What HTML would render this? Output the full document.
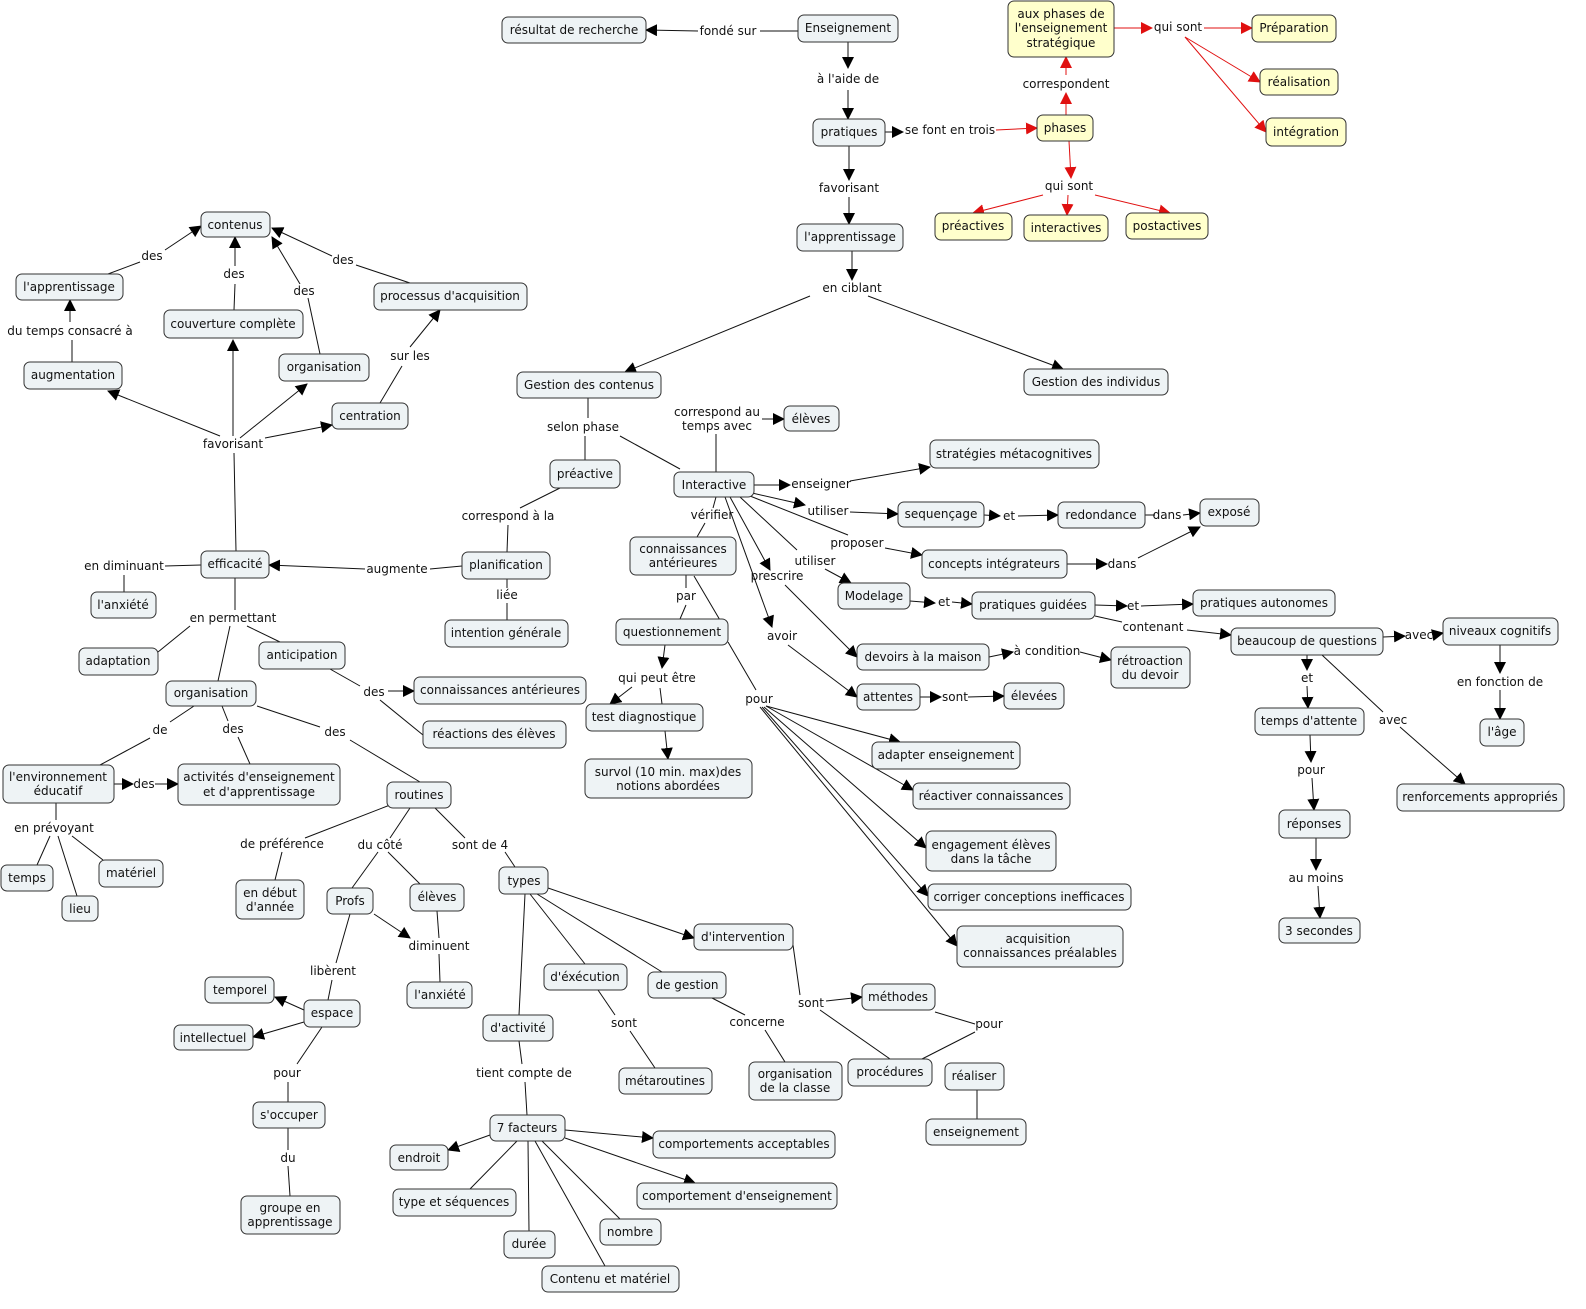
<!DOCTYPE html>
<html><head><meta charset="utf-8"><style>
html,body{margin:0;padding:0;background:#fff;overflow:hidden;width:1586px;height:1309px;}
svg{display:block;font-family:"DejaVu Sans","Liberation Sans",sans-serif;font-size:12px;}
.n{fill:#eef3f5;stroke:#333;stroke-width:1;}
.y{fill:#ffffcc;stroke:#333;stroke-width:1;}
text{fill:#111;text-anchor:middle;}
.l{stroke:#111;stroke-width:1;fill:none;}
.r{stroke:#e01010;stroke-width:1;fill:none;}
</style></head><body>
<svg width="1586" height="1309" viewBox="0 0 1586 1309" xmlns="http://www.w3.org/2000/svg">
<defs>
<marker id="a" markerUnits="userSpaceOnUse" markerWidth="12" markerHeight="12" refX="11" refY="6" orient="auto"><path d="M0,0 L12,6 L0,12 z" fill="#000"/></marker>
<marker id="ar" markerUnits="userSpaceOnUse" markerWidth="12" markerHeight="12" refX="11" refY="6" orient="auto"><path d="M0,0 L12,6 L0,12 z" fill="#e01010"/></marker>
</defs>

<g class="l">
<line x1="798" y1="31" x2="760" y2="31"/><line x1="698" y1="31" x2="646" y2="30" marker-end="url(#a)"/>
<line x1="848" y1="42" x2="848" y2="68" marker-end="url(#a)"/><line x1="848" y1="90" x2="848" y2="119" marker-end="url(#a)"/>
<line x1="885" y1="132" x2="903" y2="132" marker-end="url(#a)"/>
<line x1="849" y1="146" x2="849" y2="180" marker-end="url(#a)"/><line x1="849" y1="197" x2="849" y2="224" marker-end="url(#a)"/>
<line x1="852" y1="251" x2="852" y2="280" marker-end="url(#a)"/>
<line x1="810" y1="296" x2="625" y2="372" marker-end="url(#a)"/><line x1="868" y1="296" x2="1063" y2="369" marker-end="url(#a)"/>
<line x1="588" y1="398" x2="588" y2="418"/><line x1="585" y1="436" x2="585" y2="460"/><line x1="620" y1="436" x2="680" y2="469"/>
<line x1="716" y1="472" x2="716" y2="434"/><line x1="762" y1="419" x2="784" y2="419" marker-end="url(#a)"/>
<line x1="754" y1="485" x2="790" y2="485" marker-end="url(#a)"/><line x1="850" y1="481" x2="930" y2="467" marker-end="url(#a)"/>
<line x1="752" y1="493" x2="805" y2="505" marker-end="url(#a)"/><line x1="850" y1="512" x2="898" y2="514" marker-end="url(#a)"/>
<line x1="750" y1="496" x2="848" y2="535"/><line x1="885" y1="548" x2="922" y2="555" marker-end="url(#a)"/>
<line x1="740" y1="497" x2="797" y2="550"/><line x1="825" y1="569" x2="851" y2="583" marker-end="url(#a)"/>
<line x1="730" y1="497" x2="770" y2="570" marker-end="url(#a)"/><line x1="785" y1="585" x2="857" y2="657" marker-end="url(#a)"/>
<line x1="725" y1="497" x2="772" y2="627" marker-end="url(#a)"/><line x1="788" y1="645" x2="857" y2="697" marker-end="url(#a)"/>
<line x1="716" y1="497" x2="713" y2="508"/><line x1="705" y1="523" x2="697" y2="537"/>
<line x1="686" y1="575" x2="686" y2="588"/><line x1="686" y1="605" x2="680" y2="619"/>
<line x1="694" y1="576" x2="727" y2="632"/>
<line x1="728" y1="642" x2="756" y2="690"/>
<line x1="766" y1="706" x2="900" y2="742" marker-end="url(#a)"/>
<line x1="766" y1="706" x2="913" y2="790" marker-end="url(#a)"/>
<line x1="764" y1="707" x2="926" y2="848" marker-end="url(#a)"/>
<line x1="762" y1="707" x2="928" y2="896" marker-end="url(#a)"/>
<line x1="760" y1="707" x2="957" y2="946" marker-end="url(#a)"/>
<line x1="665" y1="645" x2="662" y2="668" marker-end="url(#a)"/>
<line x1="632" y1="687" x2="610" y2="704" marker-end="url(#a)"/><line x1="660" y1="688" x2="662" y2="704"/>
<line x1="665" y1="731" x2="668" y2="759" marker-end="url(#a)"/>
<line x1="984" y1="515" x2="1000" y2="516" marker-end="url(#a)"/><line x1="1018" y1="516" x2="1058" y2="515" marker-end="url(#a)"/>
<line x1="1145" y1="515" x2="1155" y2="515"/><line x1="1183" y1="515" x2="1200" y2="513" marker-end="url(#a)"/>
<line x1="1067" y1="564" x2="1107" y2="564" marker-end="url(#a)"/><line x1="1138" y1="558" x2="1200" y2="527" marker-end="url(#a)"/>
<line x1="910" y1="601" x2="935" y2="603" marker-end="url(#a)"/><line x1="952" y1="602" x2="972" y2="604" marker-end="url(#a)"/>
<line x1="1095" y1="605" x2="1127" y2="606" marker-end="url(#a)"/><line x1="1141" y1="606" x2="1193" y2="604" marker-end="url(#a)"/>
<line x1="1095" y1="616" x2="1122" y2="622"/><line x1="1187" y1="630" x2="1231" y2="635" marker-end="url(#a)"/>
<line x1="989" y1="657" x2="1013" y2="652" marker-end="url(#a)"/><line x1="1080" y1="652" x2="1111" y2="660" marker-end="url(#a)"/>
<line x1="920" y1="697" x2="941" y2="697" marker-end="url(#a)"/><line x1="968" y1="697" x2="1004" y2="696" marker-end="url(#a)"/>
<line x1="1383" y1="637" x2="1405" y2="636" marker-end="url(#a)"/><line x1="1433" y1="635" x2="1443" y2="633" marker-end="url(#a)"/>
<line x1="1500" y1="645" x2="1500" y2="673" marker-end="url(#a)"/><line x1="1500" y1="690" x2="1500" y2="719" marker-end="url(#a)"/>
<line x1="1307" y1="655" x2="1307" y2="670" marker-end="url(#a)"/><line x1="1307" y1="686" x2="1308" y2="708" marker-end="url(#a)"/>
<line x1="1322" y1="655" x2="1383" y2="712"/><line x1="1400" y1="727" x2="1465" y2="784" marker-end="url(#a)"/>
<line x1="1310" y1="735" x2="1311" y2="762" marker-end="url(#a)"/><line x1="1312" y1="778" x2="1314" y2="810" marker-end="url(#a)"/>
<line x1="1316" y1="838" x2="1316" y2="870" marker-end="url(#a)"/><line x1="1318" y1="886" x2="1320" y2="918" marker-end="url(#a)"/>
<line x1="462" y1="566" x2="430" y2="569"/><line x1="365" y1="569" x2="269" y2="565" marker-end="url(#a)"/>
<line x1="507" y1="552" x2="508" y2="525"/><line x1="520" y1="508" x2="560" y2="488"/>
<line x1="507" y1="579" x2="507" y2="588"/><line x1="507" y1="603" x2="507" y2="620"/>
<line x1="201" y1="565" x2="165" y2="566"/><line x1="124" y1="575" x2="124" y2="592"/>
<line x1="236" y1="551" x2="234" y2="453"/>
<line x1="220" y1="436" x2="108" y2="391" marker-end="url(#a)"/><line x1="233" y1="436" x2="233" y2="340" marker-end="url(#a)"/>
<line x1="240" y1="438" x2="307" y2="384" marker-end="url(#a)"/><line x1="265" y1="438" x2="332" y2="425" marker-end="url(#a)"/>
<line x1="72" y1="362" x2="72" y2="340"/><line x1="70" y1="322" x2="70" y2="300" marker-end="url(#a)"/>
<line x1="108" y1="274" x2="140" y2="262"/><line x1="165" y1="250" x2="201" y2="226" marker-end="url(#a)"/>
<line x1="234" y1="310" x2="235" y2="284"/><line x1="235" y1="266" x2="235" y2="237" marker-end="url(#a)"/>
<line x1="320" y1="354" x2="308" y2="298"/><line x1="300" y1="284" x2="272" y2="237" marker-end="url(#a)"/>
<line x1="410" y1="283" x2="356" y2="265"/><line x1="332" y1="256" x2="272" y2="228" marker-end="url(#a)"/>
<line x1="380" y1="403" x2="402" y2="366"/><line x1="410" y1="347" x2="440" y2="310" marker-end="url(#a)"/>
<line x1="235" y1="578" x2="235" y2="610"/><line x1="190" y1="626" x2="158" y2="652"/><line x1="230" y1="626" x2="218" y2="681"/><line x1="247" y1="626" x2="280" y2="642"/>
<line x1="330" y1="669" x2="360" y2="686"/><line x1="388" y1="691" x2="414" y2="691" marker-end="url(#a)"/><line x1="380" y1="700" x2="423" y2="735"/>
<line x1="194" y1="706" x2="170" y2="722"/><line x1="150" y1="738" x2="100" y2="765"/>
<line x1="222" y1="706" x2="228" y2="721"/><line x1="238" y1="737" x2="250" y2="764"/>
<line x1="257" y1="706" x2="320" y2="727"/><line x1="350" y1="740" x2="420" y2="782"/>
<line x1="114" y1="784" x2="133" y2="784" marker-end="url(#a)"/><line x1="155" y1="784" x2="178" y2="784" marker-end="url(#a)"/>
<line x1="56" y1="803" x2="56" y2="820"/><line x1="50" y1="836" x2="37" y2="865"/><line x1="58" y1="836" x2="77" y2="896"/><line x1="72" y1="836" x2="103" y2="860"/>
<line x1="390" y1="805" x2="305" y2="838"/><line x1="282" y1="852" x2="275" y2="880"/>
<line x1="410" y1="808" x2="390" y2="838"/><line x1="378" y1="852" x2="352" y2="888"/><line x1="388" y1="852" x2="420" y2="884"/>
<line x1="435" y1="808" x2="465" y2="838"/><line x1="505" y1="852" x2="515" y2="867"/>
<line x1="548" y1="888" x2="694" y2="938" marker-end="url(#a)"/><line x1="537" y1="894" x2="662" y2="972"/><line x1="530" y1="894" x2="585" y2="964"/><line x1="525" y1="894" x2="519" y2="1015"/>
<line x1="374" y1="914" x2="410" y2="938" marker-end="url(#a)"/><line x1="437" y1="911" x2="439" y2="938"/><line x1="439" y1="954" x2="440" y2="982"/>
<line x1="350" y1="914" x2="336" y2="963"/><line x1="332" y1="980" x2="328" y2="1000"/>
<line x1="304" y1="1010" x2="275" y2="997" marker-end="url(#a)"/><line x1="304" y1="1022" x2="253" y2="1037" marker-end="url(#a)"/>
<line x1="322" y1="1027" x2="297" y2="1064"/><line x1="288" y1="1082" x2="288" y2="1102"/>
<line x1="288" y1="1128" x2="288" y2="1150"/><line x1="288" y1="1166" x2="290" y2="1196"/>
<line x1="598" y1="990" x2="615" y2="1015"/><line x1="630" y1="1031" x2="655" y2="1068"/>
<line x1="712" y1="998" x2="745" y2="1015"/><line x1="765" y1="1030" x2="785" y2="1062"/>
<line x1="793" y1="945" x2="800" y2="995"/><line x1="826" y1="1001" x2="862" y2="997" marker-end="url(#a)"/><line x1="820" y1="1010" x2="890" y2="1059"/>
<line x1="935" y1="1012" x2="975" y2="1024"/><line x1="975" y1="1032" x2="922" y2="1059"/><line x1="977" y1="1090" x2="977" y2="1119"/>
<line x1="519" y1="1041" x2="522" y2="1064"/><line x1="525" y1="1082" x2="527" y2="1115"/>
<line x1="565" y1="1130" x2="653" y2="1138" marker-end="url(#a)"/><line x1="490" y1="1135" x2="448" y2="1150" marker-end="url(#a)"/>
<line x1="565" y1="1138" x2="695" y2="1183" marker-end="url(#a)"/><line x1="517" y1="1141" x2="470" y2="1189"/>
<line x1="528" y1="1141" x2="529" y2="1231"/><line x1="535" y1="1141" x2="605" y2="1266"/><line x1="542" y1="1141" x2="620" y2="1219"/>
</g>
<g class="r">
<line x1="996" y1="130" x2="1037" y2="128" marker-end="url(#ar)"/>
<line x1="1066" y1="115" x2="1066" y2="93" marker-end="url(#ar)"/><line x1="1066" y1="75" x2="1066" y2="57" marker-end="url(#ar)"/>
<line x1="1114" y1="28" x2="1152" y2="28" marker-end="url(#ar)"/><line x1="1204" y1="28" x2="1252" y2="28" marker-end="url(#ar)"/>
<line x1="1185" y1="37" x2="1260" y2="82" marker-end="url(#ar)"/><line x1="1185" y1="37" x2="1266" y2="132" marker-end="url(#ar)"/>
<line x1="1069" y1="141" x2="1071" y2="178" marker-end="url(#ar)"/>
<line x1="1043" y1="195" x2="973" y2="213" marker-end="url(#ar)"/><line x1="1068" y1="195" x2="1067" y2="215" marker-end="url(#ar)"/><line x1="1095" y1="195" x2="1170" y2="213" marker-end="url(#ar)"/>
</g>

<g>
<text x="728" y="35">fondé sur</text><text x="848" y="83">à l'aide de</text><text x="1178" y="31">qui sont</text>
<text x="1066" y="88">correspondent</text><text x="950" y="134">se font en trois</text><text x="849" y="192">favorisant</text>
<text x="1069" y="190">qui sont</text><text x="852" y="292">en ciblant</text>
<text x="152" y="260">des</text><text x="234" y="278">des</text><text x="304" y="295">des</text><text x="343" y="264">des</text>
<text x="70" y="335">du temps consacré à</text><text x="410" y="360">sur les</text><text x="233" y="448">favorisant</text>
<text x="583" y="431">selon phase</text><text x="717" y="416">correspond au</text><text x="717" y="430">temps avec</text>
<text x="821" y="488">enseigner</text><text x="828" y="515">utiliser</text><text x="712" y="519">vérifier</text>
<text x="857" y="547">proposer</text><text x="815" y="565">utiliser</text><text x="777" y="580">prescrire</text>
<text x="508" y="520">correspond à la</text><text x="124" y="570">en diminuant</text><text x="397" y="573">augmente</text>
<text x="507" y="599">liée</text><text x="686" y="600">par</text><text x="944" y="606">et</text><text x="1133" y="610">et</text>
<text x="1153" y="631">contenant</text><text x="782" y="640">avoir</text><text x="1047" y="655">à condition</text>
<text x="233" y="622">en permettant</text><text x="374" y="696">des</text><text x="657" y="682">qui peut être</text>
<text x="955" y="701">sont</text><text x="759" y="703">pour</text><text x="1307" y="682">et</text><text x="1419" y="639">avec</text>
<text x="1500" y="686">en fonction de</text><text x="1393" y="724">avec</text>
<text x="160" y="734">de</text><text x="233" y="733">des</text><text x="335" y="736">des</text><text x="144" y="788">des</text>
<text x="1311" y="774">pour</text><text x="54" y="832">en prévoyant</text><text x="282" y="848">de préférence</text>
<text x="380" y="849">du côté</text><text x="480" y="849">sont de 4</text><text x="1316" y="882">au moins</text>
<text x="439" y="950">diminuent</text><text x="333" y="975">libèrent</text><text x="811" y="1007">sont</text>
<text x="989" y="1028">pour</text><text x="624" y="1027">sont</text><text x="757" y="1026">concerne</text>
<text x="287" y="1077">pour</text><text x="524" y="1077">tient compte de</text><text x="288" y="1162">du</text>
<text x="1167" y="519">dans</text><text x="1122" y="568">dans</text><text x="1009" y="520">et</text>
</g>

<g>
<rect class="n" x="798" y="15" width="100" height="27" rx="6"/><text x="848" y="32">Enseignement</text>
<rect class="n" x="502" y="17" width="144" height="26" rx="6"/><text x="574" y="34">résultat de recherche</text>
<rect class="y" x="1008" y="1" width="106" height="56" rx="6"/><text x="1061" y="18">aux phases de</text><text x="1061" y="32">l'enseignement</text><text x="1061" y="47">stratégique</text>
<rect class="y" x="1252" y="15" width="84" height="27" rx="6"/><text x="1294" y="32">Préparation</text>
<rect class="y" x="1260" y="69" width="78" height="26" rx="6"/><text x="1299" y="86">réalisation</text>
<rect class="y" x="1266" y="118" width="80" height="28" rx="6"/><text x="1306" y="136">intégration</text>
<rect class="n" x="813" y="119" width="72" height="27" rx="6"/><text x="849" y="136">pratiques</text>
<rect class="y" x="1037" y="115" width="56" height="26" rx="6"/><text x="1065" y="132">phases</text>
<rect class="y" x="935" y="213" width="77" height="27" rx="6"/><text x="973" y="230">préactives</text>
<rect class="y" x="1024" y="215" width="84" height="26" rx="6"/><text x="1066" y="232">interactives</text>
<rect class="y" x="1126" y="213" width="82" height="26" rx="6"/><text x="1167" y="230">postactives</text>
<rect class="n" x="797" y="224" width="106" height="27" rx="6"/><text x="850" y="241">l'apprentissage</text>
<rect class="n" x="201" y="212" width="69" height="25" rx="6"/><text x="235" y="229">contenus</text>
<rect class="n" x="16" y="274" width="107" height="26" rx="6"/><text x="69" y="291">l'apprentissage</text>
<rect class="n" x="164" y="310" width="139" height="28" rx="6"/><text x="233" y="328">couverture complète</text>
<rect class="n" x="374" y="283" width="153" height="27" rx="6"/><text x="450" y="300">processus d'acquisition</text>
<rect class="n" x="279" y="354" width="90" height="27" rx="6"/><text x="324" y="371">organisation</text>
<rect class="n" x="24" y="362" width="98" height="27" rx="6"/><text x="73" y="379">augmentation</text>
<rect class="n" x="332" y="403" width="76" height="26" rx="6"/><text x="370" y="420">centration</text>
<rect class="n" x="517" y="372" width="144" height="26" rx="6"/><text x="589" y="389">Gestion des contenus</text>
<rect class="n" x="1024" y="369" width="144" height="26" rx="6"/><text x="1096" y="386">Gestion des individus</text>
<rect class="n" x="784" y="406" width="55" height="25" rx="6"/><text x="811" y="423">élèves</text>
<rect class="n" x="550" y="460" width="70" height="28" rx="6"/><text x="585" y="478">préactive</text>
<rect class="n" x="674" y="472" width="80" height="25" rx="6"/><text x="714" y="489">Interactive</text>
<rect class="n" x="930" y="440" width="169" height="28" rx="6"/><text x="1014" y="458">stratégies métacognitives</text>
<rect class="n" x="898" y="502" width="86" height="25" rx="6"/><text x="941" y="518">sequençage</text>
<rect class="n" x="1058" y="502" width="87" height="26" rx="6"/><text x="1101" y="519">redondance</text>
<rect class="n" x="1200" y="499" width="59" height="27" rx="6"/><text x="1229" y="516">exposé</text>
<rect class="n" x="630" y="537" width="106" height="38" rx="6"/><text x="683" y="553">connaissances</text><text x="683" y="567">antérieures</text>
<rect class="n" x="922" y="550" width="145" height="28" rx="6"/><text x="994" y="568">concepts intégrateurs</text>
<rect class="n" x="201" y="551" width="68" height="27" rx="6"/><text x="235" y="568">efficacité</text>
<rect class="n" x="462" y="552" width="88" height="27" rx="6"/><text x="506" y="569">planification</text>
<rect class="n" x="838" y="583" width="72" height="26" rx="6"/><text x="874" y="600">Modelage</text>
<rect class="n" x="972" y="592" width="123" height="27" rx="6"/><text x="1033" y="609">pratiques guidées</text>
<rect class="n" x="1193" y="590" width="142" height="26" rx="6"/><text x="1264" y="607">pratiques autonomes</text>
<rect class="n" x="91" y="592" width="65" height="26" rx="6"/><text x="123" y="609">l'anxiété</text>
<rect class="n" x="445" y="620" width="123" height="27" rx="6"/><text x="506" y="637">intention générale</text>
<rect class="n" x="616" y="619" width="112" height="26" rx="6"/><text x="672" y="636">questionnement</text>
<rect class="n" x="857" y="644" width="132" height="26" rx="6"/><text x="923" y="661">devoirs à la maison</text>
<rect class="n" x="1111" y="647" width="79" height="41" rx="6"/><text x="1150" y="665">rétroaction</text><text x="1150" y="679">du devoir</text>
<rect class="n" x="1231" y="628" width="152" height="27" rx="6"/><text x="1307" y="645">beaucoup de questions</text>
<rect class="n" x="1443" y="618" width="115" height="27" rx="6"/><text x="1500" y="635">niveaux cognitifs</text>
<rect class="n" x="79" y="648" width="79" height="27" rx="6"/><text x="118" y="665">adaptation</text>
<rect class="n" x="259" y="642" width="86" height="27" rx="6"/><text x="302" y="659">anticipation</text>
<rect class="n" x="166" y="681" width="90" height="25" rx="6"/><text x="211" y="697">organisation</text>
<rect class="n" x="414" y="677" width="172" height="27" rx="6"/><text x="500" y="694">connaissances antérieures</text>
<rect class="n" x="857" y="684" width="63" height="26" rx="6"/><text x="888" y="701">attentes</text>
<rect class="n" x="1004" y="683" width="60" height="26" rx="6"/><text x="1034" y="700">élevées</text>
<rect class="n" x="586" y="704" width="117" height="27" rx="6"/><text x="644" y="721">test diagnostique</text>
<rect class="n" x="423" y="721" width="143" height="27" rx="6"/><text x="494" y="738">réactions des élèves</text>
<rect class="n" x="1255" y="708" width="109" height="27" rx="6"/><text x="1309" y="725">temps d'attente</text>
<rect class="n" x="1480" y="719" width="44" height="27" rx="6"/><text x="1502" y="736">l'âge</text>
<rect class="n" x="872" y="742" width="148" height="27" rx="6"/><text x="946" y="759">adapter enseignement</text>
<rect class="n" x="3" y="765" width="111" height="38" rx="6"/><text x="58" y="781">l'environnement</text><text x="58" y="795">éducatif</text>
<rect class="n" x="178" y="764" width="162" height="41" rx="6"/><text x="259" y="781">activités d'enseignement</text><text x="259" y="796">et d'apprentissage</text>
<rect class="n" x="585" y="759" width="167" height="39" rx="6"/><text x="668" y="776">survol (10 min. max)des</text><text x="668" y="790">notions abordées</text>
<rect class="n" x="387" y="782" width="64" height="26" rx="6"/><text x="419" y="799">routines</text>
<rect class="n" x="913" y="783" width="157" height="26" rx="6"/><text x="991" y="800">réactiver connaissances</text>
<rect class="n" x="1397" y="784" width="167" height="27" rx="6"/><text x="1480" y="801">renforcements appropriés</text>
<rect class="n" x="1279" y="810" width="71" height="28" rx="6"/><text x="1314" y="828">réponses</text>
<rect class="n" x="926" y="831" width="130" height="40" rx="6"/><text x="991" y="849">engagement élèves</text><text x="991" y="863">dans la tâche</text>
<rect class="n" x="1" y="865" width="52" height="26" rx="6"/><text x="27" y="882">temps</text>
<rect class="n" x="99" y="860" width="64" height="27" rx="6"/><text x="131" y="877">matériel</text>
<rect class="n" x="499" y="867" width="49" height="27" rx="6"/><text x="524" y="885">types</text>
<rect class="n" x="327" y="888" width="46" height="26" rx="6"/><text x="350" y="905">Profs</text>
<rect class="n" x="410" y="884" width="54" height="27" rx="6"/><text x="437" y="901">élèves</text>
<rect class="n" x="236" y="880" width="68" height="39" rx="6"/><text x="270" y="897">en début</text><text x="270" y="911">d'année</text>
<rect class="n" x="62" y="896" width="36" height="25" rx="6"/><text x="80" y="913">lieu</text>
<rect class="n" x="928" y="884" width="203" height="26" rx="6"/><text x="1029" y="901">corriger conceptions inefficaces</text>
<rect class="n" x="1279" y="918" width="81" height="25" rx="6"/><text x="1319" y="935">3 secondes</text>
<rect class="n" x="957" y="926" width="166" height="41" rx="6"/><text x="1038" y="943">acquisition</text><text x="1040" y="957">connaissances préalables</text>
<rect class="n" x="694" y="924" width="99" height="26" rx="6"/><text x="743" y="941">d'intervention</text>
<rect class="n" x="544" y="964" width="83" height="26" rx="6"/><text x="585" y="981">d'éxécution</text>
<rect class="n" x="648" y="972" width="78" height="26" rx="6"/><text x="687" y="989">de gestion</text>
<rect class="n" x="205" y="977" width="69" height="26" rx="6"/><text x="240" y="994">temporel</text>
<rect class="n" x="862" y="984" width="73" height="26" rx="6"/><text x="898" y="1001">méthodes</text>
<rect class="n" x="407" y="982" width="65" height="26" rx="6"/><text x="440" y="999">l'anxiété</text>
<rect class="n" x="304" y="1000" width="56" height="27" rx="6"/><text x="332" y="1017">espace</text>
<rect class="n" x="483" y="1015" width="70" height="26" rx="6"/><text x="518" y="1032">d'activité</text>
<rect class="n" x="174" y="1025" width="79" height="25" rx="6"/><text x="213" y="1042">intellectuel</text>
<rect class="n" x="848" y="1059" width="84" height="27" rx="6"/><text x="890" y="1076">procédures</text>
<rect class="n" x="945" y="1063" width="59" height="27" rx="6"/><text x="974" y="1080">réaliser</text>
<rect class="n" x="749" y="1062" width="93" height="38" rx="6"/><text x="795" y="1078">organisation</text><text x="795" y="1092">de la classe</text>
<rect class="n" x="619" y="1068" width="93" height="26" rx="6"/><text x="665" y="1085">métaroutines</text>
<rect class="n" x="253" y="1102" width="72" height="26" rx="6"/><text x="289" y="1119">s'occuper</text>
<rect class="n" x="490" y="1115" width="75" height="26" rx="6"/><text x="527" y="1132">7 facteurs</text>
<rect class="n" x="926" y="1119" width="100" height="26" rx="6"/><text x="976" y="1136">enseignement</text>
<rect class="n" x="653" y="1131" width="182" height="27" rx="6"/><text x="744" y="1148">comportements acceptables</text>
<rect class="n" x="390" y="1145" width="58" height="25" rx="6"/><text x="419" y="1162">endroit</text>
<rect class="n" x="637" y="1183" width="200" height="26" rx="6"/><text x="737" y="1200">comportement d'enseignement</text>
<rect class="n" x="393" y="1189" width="123" height="27" rx="6"/><text x="454" y="1206">type et séquences</text>
<rect class="n" x="241" y="1196" width="99" height="38" rx="6"/><text x="290" y="1212">groupe en</text><text x="290" y="1226">apprentissage</text>
<rect class="n" x="600" y="1219" width="61" height="26" rx="6"/><text x="630" y="1236">nombre</text>
<rect class="n" x="504" y="1231" width="51" height="27" rx="6"/><text x="529" y="1248">durée</text>
<rect class="n" x="542" y="1266" width="137" height="26" rx="6"/><text x="610" y="1283">Contenu et matériel</text>
</g>
</svg>
</body></html>
